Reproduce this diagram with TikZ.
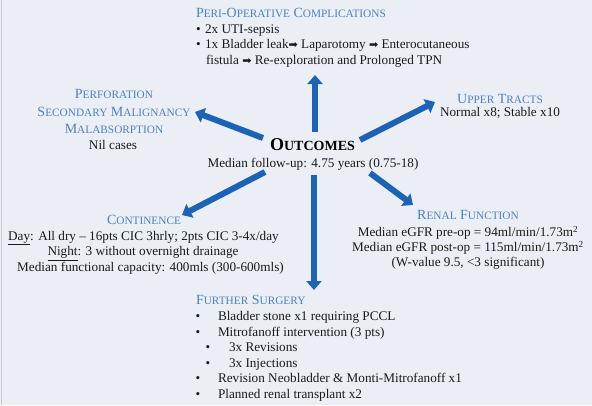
\documentclass[tikz,border=0pt]{standalone}
\usepackage{fontspec}
\setmainfont{Liberation Serif}
\newfontfamily\dejavu{DejaVu Sans}
\usetikzlibrary{arrows.meta}
\definecolor{bgcol}{HTML}{EBEEF4}
\definecolor{edgecol}{HTML}{C8CCD5}
\definecolor{ttlblue}{HTML}{4A82C6}
\definecolor{arrblue}{HTML}{1C63B8}
\definecolor{txtcol}{HTML}{1A1A1A}
\newcommand\bodyfnt{\fontsize{13.2}{15.5}\selectfont}
\newcommand\ttlfnt{\fontsize{14}{16}\selectfont}
\newcommand\mysc[1]{{\fontsize{11.3}{13}\selectfont #1}}
\newcommand\harr{{\dejavu\fontsize{11}{13}\selectfont ➡}}
\begin{document}
\begin{tikzpicture}[x=1pt,y=-1pt,
  txt/.style={inner sep=0pt, outer sep=0pt, font=\bodyfnt, text=txtcol},
  ttl/.style={inner sep=0pt, outer sep=0pt, font=\ttlfnt, text=ttlblue},
  arr/.style={draw=arrblue, line width=6pt, -{Triangle[width=15pt,length=9pt]}}]
\fill[bgcol] (0,0) rectangle (592,405);
\useasboundingbox (0,0) rectangle (592,405);
\fill[edgecol] (0.8,0) rectangle (2.3,405);

% centre
\node[inner sep=0pt, anchor=base, text=black] (out) at (312.5,150.5)
  {\bfseries\fontsize{18}{20}\selectfont O{\fontsize{14}{16}\selectfont UTCOMES}};
\node[txt, anchor=base] (fu) at (313,167) {Median follow-up: 4.75 years (0.75-18)};

% peri-operative
\node[ttl, anchor=base west] (peri) at (196,17) {P\mysc{ERI}-O\mysc{PERATIVE} C\mysc{OMPLICATIONS}};
\node[txt, anchor=base west] (peri1) at (196,33) {•\hspace{4.5pt}2x UTI-sepsis};
\node[txt, anchor=base west] (peri2) at (196,48.5) {•\hspace{4.5pt}1x Bladder leak\harr{} Laparotomy \harr{} Enterocutaneous};
\node[txt, anchor=base west] (peri3) at (206,64) {fistula \harr{} Re-exploration and Prolonged TPN};

% left group
\node[ttl, anchor=base] (perf) at (114,98.5) {P\mysc{ERFORATION}};
\node[ttl, anchor=base] (malig) at (114,116) {S\mysc{ECONDARY} M\mysc{ALIGNANCY}};
\node[ttl, anchor=base] (malab) at (114,133) {M\mysc{ALABSORPTION}};
\node[txt, anchor=base] (nil) at (113,149) {Nil cases};

% upper tracts
\node[ttl, anchor=base] (upper) at (500,103.3) {U\mysc{PPER} T\mysc{RACTS}};
\node[txt, anchor=base] (upper1) at (500,116.7) {Normal x8; Stable x10};

% continence
\node[ttl, anchor=base] (cont) at (144,224) {C\mysc{ONTINENCE}};
\node[txt, anchor=base] (cont1) at (143.5,240) {\underline{Day}: All dry -- 16pts CIC 3hrly; 2pts CIC 3-4x/day};
\node[txt, anchor=base] (cont2) at (143,255.5) {\underline{Night}: 3 without overnight drainage};
\node[txt, anchor=base] (cont3) at (150.5,271) {Median functional capacity: 400mls (300-600mls)};

% renal
\node[ttl, anchor=base] (renal) at (468,219.3) {R\mysc{ENAL} F\mysc{UNCTION}};
\node[txt, anchor=base] (renal1) at (468,236.5) {Median eGFR pre-op = 94ml/min/1.73m\textsuperscript{2}};
\node[txt, anchor=base] (renal2) at (468,251.5) {Median eGFR post-op = 115ml/min/1.73m\textsuperscript{2}};
\node[txt, anchor=base] (renal3) at (468,266) {(W-value 9.5, <3 significant)};

% further surgery
\node[ttl, anchor=base west] (fs) at (196,304) {F\mysc{URTHER} S\mysc{URGERY}};
\node[txt, anchor=base] (b1) at (198,320.7) {•};
\node[txt, anchor=base west] (fs1) at (218,320.7) {Bladder stone x1 requiring PCCL};
\node[txt, anchor=base] (b2) at (198,336.2) {•};
\node[txt, anchor=base west] (fs2) at (218,336.2) {Mitrofanoff intervention (3 pts)};
\node[txt, anchor=base] (b3) at (208,351.7) {•};
\node[txt, anchor=base west] (fs3) at (229,351.7) {3x Revisions};
\node[txt, anchor=base] (b4) at (208,367.2) {•};
\node[txt, anchor=base west] (fs4) at (229,367.2) {3x Injections};
\node[txt, anchor=base] (b5) at (198,382.7) {•};
\node[txt, anchor=base west] (fs5) at (218,382.7) {Revision Neobladder \& Monti-Mitrofanoff x1};
\node[txt, anchor=base] (b6) at (198,398.2) {•};
\node[txt, anchor=base west] (fs6) at (218,398.2) {Planned renal transplant x2};

% arrow ends
\coordinate (tUp) at (315,132);   \coordinate (hUp) at (315,75);
\coordinate (tUL) at (263,138);   \coordinate (hUL) at (195,112);
\coordinate (tUR) at (360,140);   \coordinate (hUR) at (435,102);
\coordinate (tLL) at (265,172);   \coordinate (hLL) at (182,215);
\coordinate (tLR) at (370,173);   \coordinate (hLR) at (413,205);
\coordinate (tDn) at (314,175);   \coordinate (hDn) at (314,290);
\draw[arr] (tUp) -- (hUp);
\draw[arr] (tUL) -- (hUL);
\draw[arr] (tUR) -- (hUR);
\draw[arr] (tLL) -- (hLL);
\draw[arr] (tLR) -- (hLR);
\draw[arr] (tDn) -- (hDn);
\end{tikzpicture}
\end{document}
